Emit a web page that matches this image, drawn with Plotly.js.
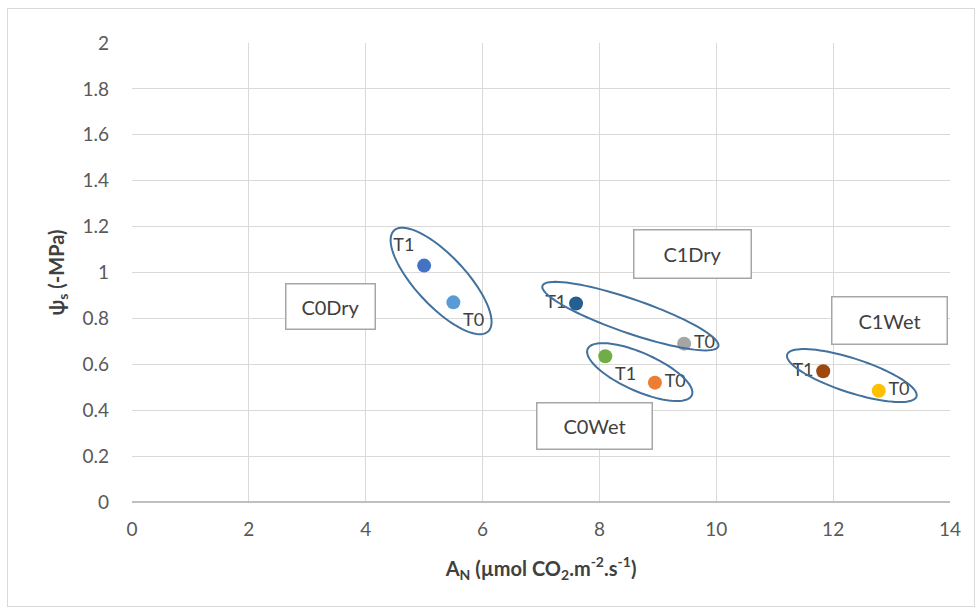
<!DOCTYPE html>
<html>
<head>
<meta charset="utf-8">
<script src="https://cdn.plot.ly/plotly-3.0.1.min.js"></script>
<style>
html,body{margin:0;padding:0;background:#fff;}
#wrap{position:relative;width:980px;height:610px;}
#chart{width:980px;height:610px;}
#frame{position:absolute;left:7px;top:8px;width:966px;height:597px;border:1px solid #d9d9d9;pointer-events:none;}
</style>
</head>
<body>
<div id="wrap"><div id="chart"></div><div id="frame"></div></div>
<script>
// ---- data ----
const groups = ["C0Dry","C0Dry","C1Dry","C1Dry","C0Wet","C0Wet","C1Wet","C1Wet"];
const stages = ["T1","T0","T1","T0","T1","T0","T1","T0"];
const anValues = [5.0, 5.5, 7.6, 9.45, 8.1, 8.95, 11.83, 12.78];
const psiValues = [1.03, 0.87, 0.865, 0.69, 0.635, 0.52, 0.57, 0.485];
const pointColors = ["#4472C4","#5B9BD5","#255E91","#A5A5A5","#70AD47","#ED7D31","#9E480E","#FFC000"];
const groupNames = ["C0Dry","C1Dry","C0Wet","C1Wet"];

// ---- layout geometry ----
const W = 980, H = 610;
const M = {l:132, r:30, t:43, b:108, pad:0};
const xRange = [0,14], yRange = [0,2];
const pxX = (W - M.l - M.r) / (xRange[1]-xRange[0]);
const pxY = (H - M.t - M.b) / (yRange[1]-yRange[0]);
const FONT = "Lato, 'Open Sans', sans-serif";

const textPos = ["top left","bottom right","middle left","middle right","bottom right","middle right","middle left","middle right"];

const pts = {
  type:"scatter", mode:"markers+text",
  x: anValues, y: psiValues, text: stages,
  textposition: textPos,
  textfont:{family:FONT, size:18, color:"#404040"},
  marker:{size:14, color: pointColors},
  cliponaxis:false, hoverinfo:"skip", showlegend:false
};

// ellipse styling per group: center in data units, semi-axes in px, angle in degrees
const ellipseStyle = {
  C0Dry:{cx:5.29, cy:0.963, a:69, b:25, ang:47},
  C1Dry:{cx:8.53, cy:0.810, a:93, b:17, ang:19},
  C0Wet:{cx:8.69, cy:0.566, a:57, b:19, ang:24},
  C1Wet:{cx:12.32, cy:0.551, a:68, b:17, ang:18}
};
function ellipsePath(e){
  const th = e.ang*Math.PI/180, n=90;
  let d="";
  for(let i=0;i<=n;i++){
    const t = 2*Math.PI*i/n;
    const dx = e.a*Math.cos(t)*Math.cos(th) - e.b*Math.sin(t)*Math.sin(th);
    const dy = e.a*Math.cos(t)*Math.sin(th) + e.b*Math.sin(t)*Math.cos(th);
    const x = e.cx + dx/pxX, y = e.cy - dy/pxY;
    d += (i===0?"M ":" L ") + x.toFixed(4) + "," + y.toFixed(4);
  }
  return d + " Z";
}
const shapes = groupNames.map(g => ({
  type:"path", xref:"x", yref:"y", path: ellipsePath(ellipseStyle[g]),
  line:{color:"#41719C", width:2}, fillcolor:"rgba(0,0,0,0)", layer:"above"
}));

const boxPos = {
  C0Dry:{x:3.40, y:0.854, w:88, h:44},
  C1Dry:{x:9.59, y:1.08, w:116, h:47},
  C0Wet:{x:7.91, y:0.331, w:114, h:45},
  C1Wet:{x:12.97, y:0.793, w:114, h:46}
};
const annotations = groupNames.map(g => ({
  x: boxPos[g].x, y: boxPos[g].y, xref:"x", yref:"y", text:g, showarrow:false,
  width: boxPos[g].w, height: boxPos[g].h, align:"center", valign:"middle",
  bgcolor:"#ffffff", bordercolor:"#a6a6a6", borderwidth:1.5, borderpad:0,
  font:{family:FONT, size:20, color:"#404040"}
}));

const tickFont = {family:FONT, size:19, color:"#595959"};
const layout = {
  width:W, height:H, margin:M,
  paper_bgcolor:"#ffffff", plot_bgcolor:"#ffffff",
  showlegend:false,
  xaxis:{range:xRange, dtick:2, tick0:0, showgrid:true, gridcolor:"#d9d9d9", gridwidth:1,
         zeroline:false, showline:false, ticks:"", ticklabelstandoff:14, tickfont:tickFont, fixedrange:true,
         title:{text:"<b>A<sub>N</sub> (µmol CO<sub>2</sub>.m<sup>-2</sup>.s<sup>-1</sup>)</b>", standoff:22,
                font:{family:FONT, size:20, color:"#404040"}}},
  yaxis:{range:yRange, dtick:0.2, tick0:0, showgrid:true, gridcolor:"#d9d9d9", gridwidth:1,
         zeroline:true, zerolinecolor:"#bfbfbf", zerolinewidth:1.5, showline:false, ticks:"",
         ticklabelstandoff:22, tickfont:tickFont, fixedrange:true,
         title:{text:"<b>ψ<sub>s</sub> (-MPa)</b>", standoff:12,
                font:{family:FONT, size:20, color:"#404040"}}},
  shapes: shapes,
  annotations: annotations
};
Plotly.newPlot("chart",[pts],layout,{displayModeBar:false, staticPlot:true});
</script>
</body>
</html>
